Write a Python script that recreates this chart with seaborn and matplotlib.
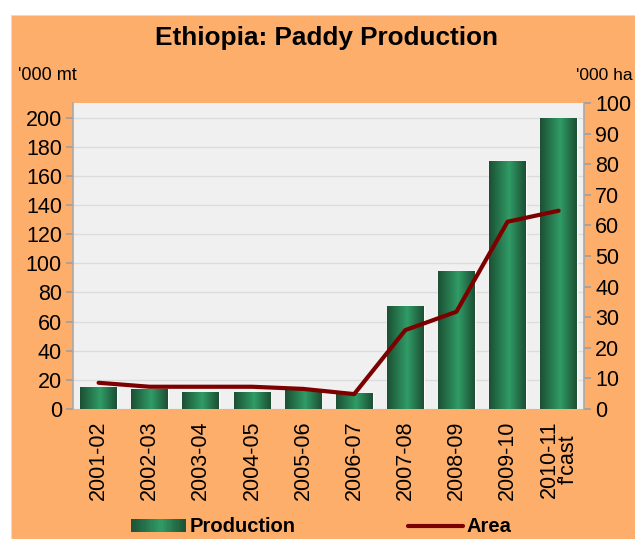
import numpy as np
import pandas as pd
import matplotlib
matplotlib.use("Agg")
import matplotlib.pyplot as plt
import seaborn as sns
from matplotlib.patches import Rectangle, Patch
from matplotlib.lines import Line2D
from matplotlib.legend_handler import HandlerPatch
from matplotlib.colors import LinearSegmentedColormap

# ---- data ----
seasons = ["2001-02", "2002-03", "2003-04", "2004-05", "2005-06",
           "2006-07", "2007-08", "2008-09", "2009-10", "2010-11\nf'cast"]
production = [15, 14, 12, 12, 13, 11, 71, 94.5, 170, 200]   # '000 mt
area = [8.6, 7.3, 7.3, 7.3, 6.6, 4.9, 25.8, 31.8, 61.2, 64.8]  # '000 ha
left_ticks = list(range(0, 201, 20))
right_ticks = list(range(0, 101, 10))

ORANGE = "#FDAE6B"
PLOTBG = "#F0F0F0"
DARKG = "#1c5034"
LIGHTG = "#309c66"
LINEC = "#7d0000"

sns.set_theme(style="white")
plt.rcParams["font.family"] = ["Liberation Sans", "DejaVu Sans"]
plt.rcParams["text.color"] = "black"
plt.rcParams["xtick.color"] = "black"
plt.rcParams["ytick.color"] = "black"
plt.rcParams["axes.labelcolor"] = "black"

fig = plt.figure(figsize=(6.35, 5.39), dpi=100)
fig.patch.set_facecolor("white")
fig.add_artist(Rectangle((11 / 635, 0), 1 - 11 / 635, 1 - 15 / 539,
                         transform=fig.transFigure, facecolor=ORANGE,
                         edgecolor="#dddddd", lw=0.8, zorder=-10))

ax = fig.add_axes([0.115, 0.241, 0.805, 0.568])
ax.set_facecolor(PLOTBG)

df = pd.DataFrame({"season": seasons, "production": production, "area": area})
sns.barplot(data=df, x="season", y="production", color=LIGHTG, width=0.72,
            ax=ax, zorder=2, saturation=1)

# gradient overlay on bars
cmap = LinearSegmentedColormap.from_list("g", [(0, DARKG), (0.55, LIGHTG), (1, DARKG)])
grad = np.linspace(0, 1, 64).reshape(1, -1)
for p in ax.patches:
    x0, y0 = p.get_x(), p.get_y()
    w, h = p.get_width(), p.get_height()
    im = ax.imshow(grad, cmap=cmap, extent=[x0, x0 + w, y0, y0 + h],
                   aspect="auto", zorder=3, interpolation="bilinear")
    im.set_clip_path(p)

ax.set_xlim(-0.5, 9.5)
ax.set_ylim(0, 210)
ax.set_yticks(left_ticks)
ax.yaxis.grid(True, color="#dcdcdc", lw=1)
ax.set_axisbelow(True)
ax.set_xlabel("")
ax.set_ylabel("")
ax.tick_params(axis="y", labelsize=15.5, length=5, color="#a0a0a0", pad=3, left=True)
ax.tick_params(axis="x", labelsize=15.5, length=0, pad=8)
plt.setp(ax.get_xticklabels(), rotation=90, linespacing=0.85)
for s in ["top", "right", "bottom"]:
    ax.spines[s].set_visible(False)
ax.spines["left"].set_color("#a8a8a8")
ax.spines["left"].set_linewidth(1.2)

ax2 = ax.twinx()
sns.lineplot(x=np.arange(len(area)), y=area, color=LINEC, lw=3, ax=ax2, zorder=5)
ax2.set_ylim(0, 100)
ax2.set_yticks(right_ticks)
ax2.set_ylabel("")
ax2.grid(False)
ax2.tick_params(axis="y", labelsize=15.5, length=5, color="#a0a0a0", pad=3, right=True)
for s in ["top", "left", "bottom"]:
    ax2.spines[s].set_visible(False)
ax2.spines["right"].set_color("#a8a8a8")
ax2.spines["right"].set_linewidth(1.2)

fig.text(0.514, 0.929, "Ethiopia: Paddy Production", ha="center", va="center",
         fontsize=18.8, fontweight="bold")
fig.text(18 / 635, 1 - 75 / 539, "'000 mt", ha="left", va="center", fontsize=13)
fig.text(633 / 635, 1 - 75 / 539, "'000 ha", ha="right", va="center", fontsize=12.5)


class GradHandler(HandlerPatch):
    def create_artists(self, legend, orig_handle, xdescent, ydescent,
                       width, height, fontsize, trans):
        arts = []
        n = 24
        for i in range(n):
            c = cmap((i + 0.5) / n)
            r = Rectangle((-xdescent + width * i / n, -ydescent), width / n + 0.3,
                          height, facecolor=c, edgecolor="none", transform=trans)
            arts.append(r)
        return arts


handles = [Patch(facecolor=LIGHTG, label="Production"),
           Line2D([], [], color=LINEC, lw=3, label="Area")]
leg = fig.legend(handles=handles, loc="center", bbox_to_anchor=(0.506, 1 - 527 / 539),
                 ncol=2, frameon=False, handler_map={Patch: GradHandler()},
                 prop={"weight": "bold", "size": 14.5}, handlelength=2.7,
                 handleheight=0.6, handletextpad=0.2, columnspacing=5.6)

fig.savefig("out.png", dpi=100, facecolor=fig.get_facecolor())
